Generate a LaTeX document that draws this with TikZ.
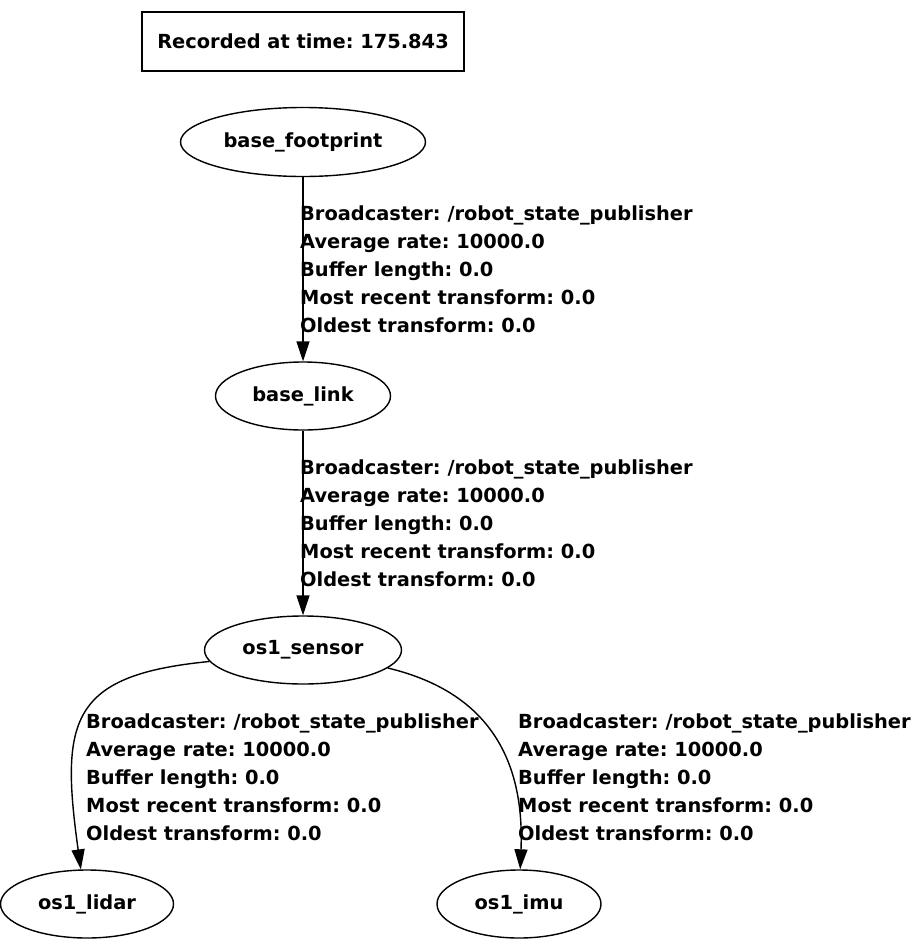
\documentclass[tikz,border=0pt]{standalone}
\usepackage{fontspec}
\setmainfont{DejaVu Sans}
\usetikzlibrary{arrows.meta}
\usetikzlibrary{shapes.geometric}
\tikzset{frame/.style = {draw, line width = 1.4pt, minimum width = 322, minimum height = 59, inner sep = 0}}
\tikzset{nd/.style = {draw, ellipse, line width = 1.4pt, inner sep = 0}}
\tikzset{info/.style = {anchor = west, align = left, inner sep = 0}}
\tikzset{edge/.style = {line width = 1.4pt, -{Triangle[length = 20pt, width = 13pt]}}}
\frenchspacing

\begin{document}
\begin{tikzpicture}[x = 1pt, y = -1pt, font = \bfseries\fontsize{19.4}{28}\selectfont]
    \useasboundingbox (0, 0) rectangle (911, 940);

    \node [frame] (stamp) at (303, 41.5) {Recorded at time: 175.843};

    \node [nd, minimum width = 245, minimum height = 69] (foot) at (303, 142) {base\_footprint};
    \node [nd, minimum width = 175, minimum height = 68] (link) at (303, 396) {base\_link};
    \node [nd, minimum width = 197, minimum height = 68] (sensor) at (303, 650) {os1\_sensor};
    \node [nd, minimum width = 173, minimum height = 68] (lidar) at (87, 904) {os1\_lidar};
    \node [nd, minimum width = 164, minimum height = 68] (imu) at (519, 904) {os1\_imu};

    \draw [edge] (foot) -- (link);
    \draw [edge] (link) -- (sensor);
    \draw [edge] (sensor.187) .. controls (70, 675) and (60, 720) .. (lidar.100);
    \draw [edge] (sensor.-12) .. controls (480, 690) and (525, 750) .. (imu.88);

    \node [info] (tf1) at (300, 269) {Broadcaster: /robot\_state\_publisher\\Average rate: 10000.0\\Buffer length: 0.0\\Most recent transform: 0.0\\Oldest transform: 0.0};
    \node [info] (tf2) at (300, 523) {Broadcaster: /robot\_state\_publisher\\Average rate: 10000.0\\Buffer length: 0.0\\Most recent transform: 0.0\\Oldest transform: 0.0};
    \node [info] (tf3) at (86, 777) {Broadcaster: /robot\_state\_publisher\\Average rate: 10000.0\\Buffer length: 0.0\\Most recent transform: 0.0\\Oldest transform: 0.0};
    \node [info] (tf4) at (518, 777) {Broadcaster: /robot\_state\_publisher\\Average rate: 10000.0\\Buffer length: 0.0\\Most recent transform: 0.0\\Oldest transform: 0.0};
  \end{tikzpicture}
\end{document}
